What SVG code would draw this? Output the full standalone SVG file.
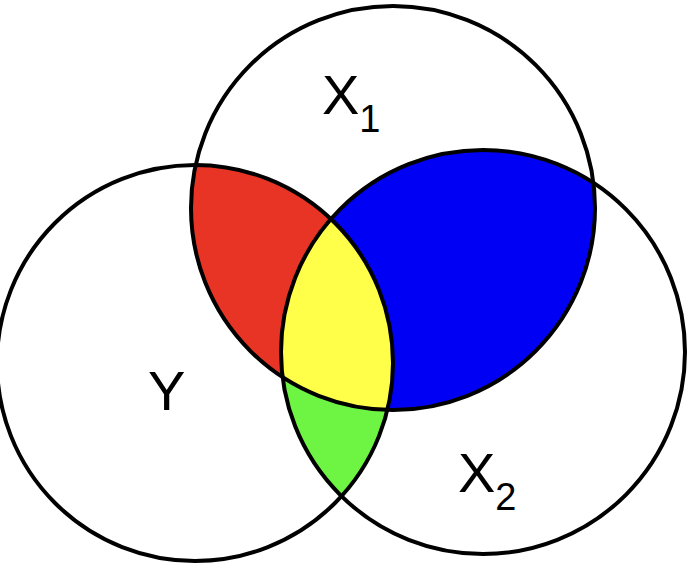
<svg xmlns="http://www.w3.org/2000/svg" width="690" height="584" viewBox="0 0 690 584">
<style>
.c{fill:none;stroke:#000;stroke-width:4}
.t{font-family:"Liberation Sans",Arial,sans-serif;font-size:56px;fill:#000}
.s{font-size:38px}
</style>
<defs>
<clipPath id="cy"><circle cx="195" cy="363" r="198"/></clipPath>
<clipPath id="c1"><circle cx="393" cy="208" r="202"/></clipPath>
<clipPath id="c2"><circle cx="483" cy="352" r="202"/></clipPath>
</defs>
<rect width="690" height="584" fill="#fff"/>
<g id="regions">
<circle cx="393" cy="208" r="202" fill="#e83424" clip-path="url(#cy)"/>
<circle cx="393" cy="208" r="202" fill="#0000f5" clip-path="url(#c2)"/>
<circle cx="483" cy="352" r="202" fill="#6ef442" clip-path="url(#cy)"/>
<g clip-path="url(#c2)"><circle cx="393" cy="208" r="202" fill="#ffff4a" clip-path="url(#cy)"/></g>
</g>
<g id="Y"><circle class="c" cx="195" cy="363" r="198"/><text class="t" x="148" y="410">Y</text></g>
<g id="X1"><circle class="c" cx="393" cy="208" r="202"/><text class="t" x="322" y="114">X<tspan class="s" dy="18">1</tspan></text></g>
<g id="X2"><circle class="c" cx="483" cy="352" r="202"/><text class="t" x="458" y="492">X<tspan class="s" dy="18">2</tspan></text></g>
</svg>
